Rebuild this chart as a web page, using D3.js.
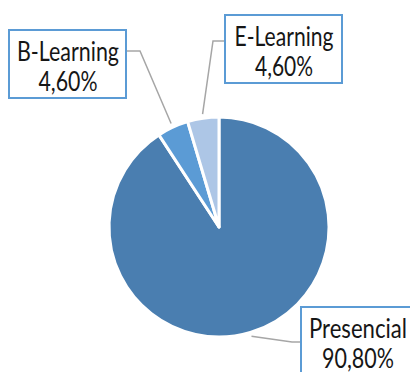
<!DOCTYPE html>
<html>
<head>
<meta charset="utf-8">
<script src="https://cdn.jsdelivr.net/npm/d3@7/dist/d3.min.js"></script>
<style>
  html, body { margin: 0; padding: 0; background: #ffffff; }
  svg { display: block; }
  .lbl { font-family: Lato, "Noto Sans", "Liberation Sans", sans-serif; font-size: 27px; font-weight: 400; fill: #161616; }
</style>
</head>
<body>
<svg id="chart" width="410" height="372"></svg>
<script>
// Share of teaching modes (percent)
const categories = ["Presencial", "B-Learning", "E-Learning"];
const values = [90.8, 4.6, 4.6];
const valueLabels = ["90,80%", "4,60%", "4,60%"];

const colors = ["#4a7eb0", "#5b9bd5", "#adc6e6"];

// Label boxes: top-left corner, size, leader elbow, and condensed text widths
const labelLayout = [
  { x: 301, y: 307, w: 118, h: 70, elbow: [292, 342], side: "left", anchorY: 342, nameW: 98, valW: 72, cxOff: 57 },
  { x: 9,   y: 30,  w: 117, h: 68, elbow: [140, 51],  side: "right", anchorY: 51, nameW: 102, valW: 59, cxOff: 59 },
  { x: 225, y: 15,  w: 117, h: 68, elbow: [213, 41],  side: "left", anchorY: 41, nameW: 99, valW: 58, cxOff: 59 }
];

const svg = d3.select("#chart");
const cx = 219, cy = 227, radius = 110;

const pie = d3.pie().sort(null).value(d => d.value);
const arcs = pie(categories.map((c, i) => ({ name: c, value: values[i], label: valueLabels[i] })));

const arc = d3.arc().innerRadius(0).outerRadius(radius);
const g = svg.append("g").attr("transform", `translate(${cx},${cy})`);

g.selectAll("path.slice")
  .data(arcs)
  .join("path")
  .attr("class", "slice")
  .attr("d", arc)
  .attr("fill", (d, i) => colors[i])
  .attr("stroke", "#ffffff")
  .attr("stroke-width", 3)
  .attr("stroke-linejoin", "round");

// Leader lines from just outside each slice to its label box
const outer = d3.arc().innerRadius(radius + 4).outerRadius(radius + 4);
arcs.forEach((d, i) => {
  const L = labelLayout[i];
  const p = outer.centroid(d);
  const start = [cx + p[0], cy + p[1]];
  const edgeX = L.side === "left" ? L.x - 1 : L.x + L.w + 1;
  svg.append("polyline")
    .attr("points", [start, L.elbow, [edgeX, L.anchorY]].map(q => q.join(",")).join(" "))
    .attr("fill", "none")
    .attr("stroke", "#a6a6a6")
    .attr("stroke-width", 1.5);
});

// Label boxes
arcs.forEach((d, i) => {
  const L = labelLayout[i];
  const box = svg.append("g");
  box.append("rect")
    .attr("x", L.x).attr("y", L.y)
    .attr("width", L.w).attr("height", L.h)
    .attr("fill", "#ffffff")
    .attr("stroke", "#5b9bd5")
    .attr("stroke-width", 2);
  const mid = L.x + L.cxOff;
  box.append("text")
    .attr("class", "lbl")
    .attr("x", mid - L.nameW / 2).attr("y", L.y + 31)
    .attr("textLength", L.nameW)
    .attr("lengthAdjust", "spacingAndGlyphs")
    .text(d.data.name);
  box.append("text")
    .attr("class", "lbl")
    .attr("x", mid - L.valW / 2).attr("y", L.y + 61)
    .attr("textLength", L.valW)
    .attr("lengthAdjust", "spacingAndGlyphs")
    .text(d.data.label);
});
</script>
</body>
</html>
